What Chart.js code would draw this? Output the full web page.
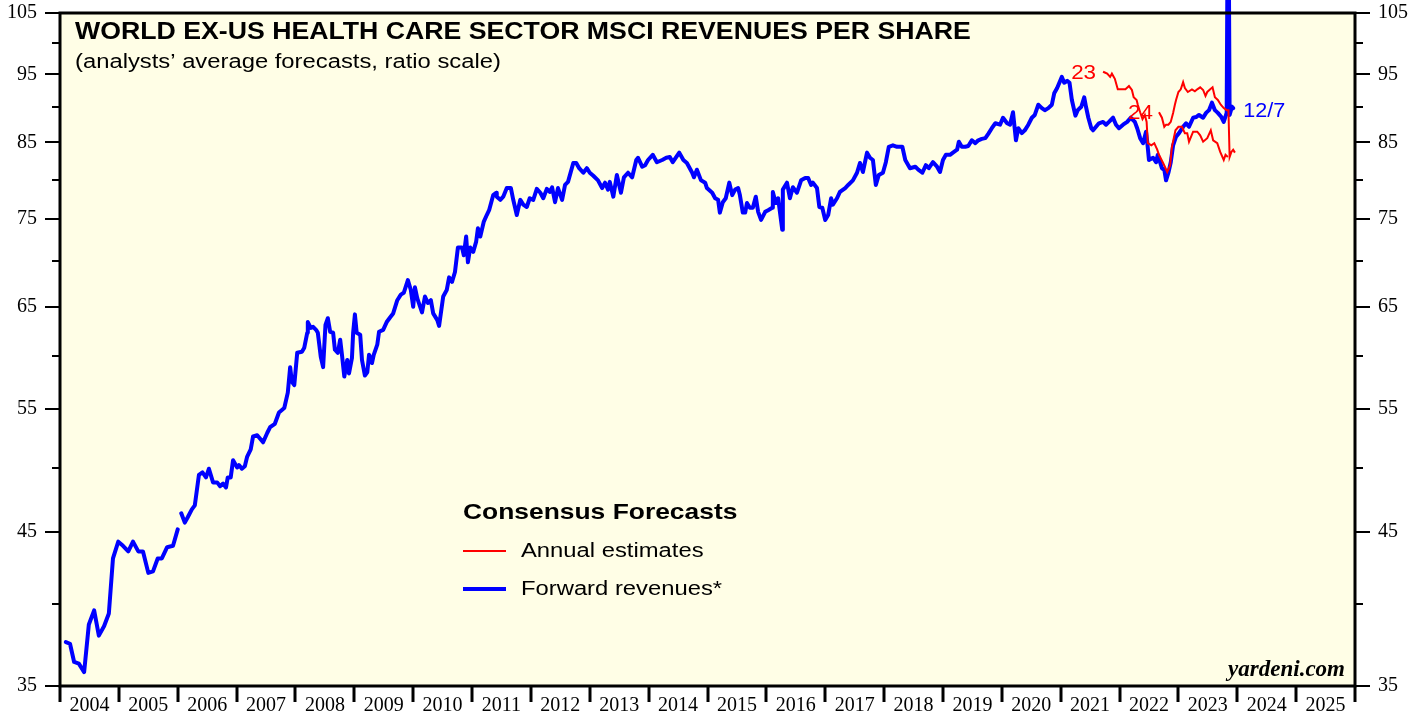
<!DOCTYPE html>
<html>
<head>
<meta charset="utf-8">
<script src="https://cdn.jsdelivr.net/npm/chart.js@4.4.0/dist/chart.umd.min.js"></script>
<style>
  html, body { margin: 0; padding: 0; background: #fff; }
  #wrap { width: 1424px; height: 717px; }
</style>
</head>
<body>
<div id="wrap"><canvas id="chart" width="1424" height="717"></canvas></div>
<script>
// Forward revenues (blue), decimal years; null = gap in the series
const fwdDates = [
  2004.10, 2004.17, 2004.24, 2004.32, 2004.41, 2004.49, 2004.58, 2004.66, 2004.75, 2004.83, 2004.90, 2004.99,
  2005.07, 2005.16, 2005.24, 2005.33, 2005.41, 2005.50, 2005.58, 2005.66, 2005.73, 2005.82, 2005.92, 2006.00,
  2006.03, 2006.06, 2006.12, 2006.17, 2006.24, 2006.29, 2006.36, 2006.42, 2006.48, 2006.53, 2006.60, 2006.67,
  2006.72, 2006.77, 2006.82, 2006.85, 2006.90, 2006.94, 2007.01, 2007.04, 2007.09, 2007.14, 2007.18, 2007.24,
  2007.28, 2007.35, 2007.40, 2007.45, 2007.52, 2007.57, 2007.65, 2007.72, 2007.81, 2007.87, 2007.91, 2007.94,
  2007.98, 2008.03, 2008.11, 2008.15, 2008.20, 2008.21, 2008.26, 2008.30, 2008.35, 2008.38, 2008.43, 2008.47,
  2008.51, 2008.55, 2008.59, 2008.64, 2008.67, 2008.72, 2008.76, 2008.79, 2008.83, 2008.88, 2008.91, 2008.96,
  2008.98, 2009.01, 2009.04, 2009.10, 2009.13, 2009.18, 2009.22, 2009.25, 2009.30, 2009.33, 2009.39, 2009.42,
  2009.49, 2009.55, 2009.61, 2009.66, 2009.73, 2009.79, 2009.84, 2009.91, 2009.96, 2010.00, 2010.03, 2010.07,
  2010.15, 2010.20, 2010.25, 2010.30, 2010.34, 2010.41, 2010.44, 2010.51, 2010.57, 2010.61, 2010.66, 2010.71,
  2010.76, 2010.83, 2010.86, 2010.90, 2010.93, 2010.97, 2011.02, 2011.07, 2011.10, 2011.14, 2011.20, 2011.25,
  2011.29, 2011.36, 2011.41, 2011.42, 2011.48, 2011.53, 2011.59, 2011.66, 2011.70, 2011.76, 2011.82, 2011.87,
  2011.93, 2011.98, 2012.04, 2012.10, 2012.16, 2012.21, 2012.27, 2012.32, 2012.36, 2012.41, 2012.46, 2012.53,
  2012.58, 2012.63, 2012.72, 2012.77, 2012.82, 2012.89, 2012.95, 2013.00, 2013.06, 2013.14, 2013.21, 2013.26,
  2013.31, 2013.34, 2013.40, 2013.46, 2013.53, 2013.58, 2013.65, 2013.72, 2013.79, 2013.82, 2013.89, 2013.94,
  2013.99, 2014.07, 2014.14, 2014.23, 2014.30, 2014.36, 2014.41, 2014.52, 2014.59, 2014.65, 2014.74, 2014.77,
  2014.82, 2014.89, 2014.96, 2014.99, 2015.08, 2015.13, 2015.18, 2015.21, 2015.26, 2015.31, 2015.37, 2015.42,
  2015.47, 2015.52, 2015.55, 2015.60, 2015.64, 2015.67, 2015.72, 2015.77, 2015.82, 2015.86, 2015.91, 2015.98,
  2016.03, 2016.10, 2016.11, 2016.16, 2016.20, 2016.27, 2016.28, 2016.35, 2016.40, 2016.45, 2016.52, 2016.59,
  2016.66, 2016.71, 2016.76, 2016.79, 2016.86, 2016.90, 2016.95, 2017.00, 2017.05, 2017.10, 2017.13, 2017.20,
  2017.25, 2017.34, 2017.39, 2017.47, 2017.54, 2017.59, 2017.64, 2017.71, 2017.76, 2017.81, 2017.86, 2017.91,
  2017.98, 2018.03, 2018.08, 2018.15, 2018.22, 2018.31, 2018.36, 2018.44, 2018.53, 2018.58, 2018.65, 2018.71,
  2018.76, 2018.83, 2018.90, 2018.95, 2019.00, 2019.05, 2019.12, 2019.17, 2019.24, 2019.27, 2019.32, 2019.38,
  2019.43, 2019.49, 2019.55, 2019.60, 2019.66, 2019.72, 2019.77, 2019.83, 2019.89, 2019.97, 2020.02, 2020.09,
  2020.14, 2020.19, 2020.24, 2020.28, 2020.34, 2020.39, 2020.45, 2020.51, 2020.56, 2020.62, 2020.68, 2020.73,
  2020.79, 2020.85, 2020.89, 2020.94, 2021.02, 2021.06, 2021.11, 2021.15, 2021.19, 2021.25, 2021.29, 2021.35,
  2021.40, 2021.43, 2021.47, 2021.52, 2021.55, 2021.60, 2021.65, 2021.72, 2021.77, 2021.82, 2021.89, 2021.94,
  2021.99, 2022.06, 2022.13, 2022.19, 2022.26, 2022.30, 2022.35, 2022.40, 2022.45, 2022.47, 2022.50, 2022.57,
  2022.62, 2022.65, 2022.72, 2022.76, 2022.79, 2022.83, 2022.87, 2022.91, 2022.96, 2023.01, 2023.08, 2023.13,
  2023.18, 2023.25, 2023.30, 2023.35, 2023.42, 2023.47, 2023.52, 2023.57, 2023.62, 2023.67, 2023.73, 2023.77,
  2023.82, 2023.845, 2023.87, 2023.91, 2023.93
];
const fwdValues = [
  37.6, 37.5, 36.4, 36.3, 35.8, 38.7, 39.6, 38.0, 38.6, 39.4, 43.1, 44.3,
  44.0, 43.6, 44.3, 43.6, 43.6, 42.1, 42.2, 43.1, 43.1, 43.9, 44.0, 45.2,
  null, 46.4, 45.7, 46.1, 46.7, 47.0, 49.4, 49.6, 49.2, 49.9, 48.8, 48.8,
  48.5, 48.7, 48.4, 49.2, 49.2, 50.6, 50.0, 50.2, 49.9, 50.1, 50.9, 51.5,
  52.6, 52.7, 52.4, 52.1, 52.9, 53.4, 53.7, 54.7, 55.1, 56.5, 58.9, 57.5,
  57.2, 60.3, 60.4, 60.8, 62.3, 63.4, 62.8, 62.9, 62.6, 62.3, 59.9, 58.9,
  63.1, 63.8, 62.4, 62.3, 60.6, 60.3, 61.6, 60.1, 58.0, 59.6, 58.3, 59.8,
  62.3, 64.2, 62.3, 62.1, 59.6, 58.1, 58.4, 60.1, 59.3, 60.1, 61.1, 62.4,
  62.6, 63.4, 63.9, 64.3, 65.7, 66.3, 66.5, 67.9, 66.8, 65.0, 67.1, 65.9,
  64.4, 66.1, 65.4, 65.7, 64.3, 63.6, 63.0, 66.1, 66.8, 68.2, 67.7, 68.8,
  71.6, 71.6, 70.7, 72.9, 69.9, 71.6, 71.1, 72.3, 73.9, 72.9, 74.7, 75.5,
  76.1, 78.0, 78.3, 77.8, 77.4, 77.8, 78.9, 78.9, 77.4, 75.5, 77.4, 76.8,
  76.5, 77.6, 77.4, 78.8, 78.3, 77.6, 78.8, 78.4, 79.0, 77.1, 78.9, 77.4,
  79.3, 79.7, 82.2, 82.2, 81.5, 80.9, 81.5, 80.9, 80.5, 79.9, 78.9, 79.6,
  78.7, 79.7, 77.8, 80.6, 78.3, 80.3, 80.9, 80.3, 82.6, 82.9, 81.7, 81.9,
  82.6, 83.3, 82.3, 82.6, 82.9, 83.0, 82.3, 83.6, 82.6, 82.2, 80.9, 80.3,
  81.3, 79.9, 79.6, 78.9, 78.3, 77.6, 77.4, 75.8, 77.1, 77.6, 79.6, 78.0,
  78.7, 78.9, 78.0, 75.8, 75.8, 77.0, 76.4, 76.4, 77.8, 75.9, 74.9, 75.9,
  76.1, 76.4, 78.4, 77.0, 77.6, 73.7, 78.7, 79.6, 77.6, 79.0, 78.3, 79.9,
  80.2, 80.2, 79.3, 79.6, 78.9, 76.5, 76.4, 74.9, 75.5, 77.6, 76.8, 77.6,
  78.4, 78.9, 79.3, 79.9, 80.9, 82.2, 81.0, 83.6, 82.9, 82.6, 79.3, 80.6,
  80.9, 82.3, 84.4, 84.6, 84.4, 84.4, 82.6, 81.5, 81.7, 81.3, 80.9, 81.9,
  81.5, 82.3, 81.7, 81.0, 82.6, 83.3, 83.3, 83.6, 84.0, 85.1, 84.4, 84.4,
  84.5, 85.3, 84.9, 85.3, 85.5, 85.6, 86.2, 87.0, 87.7, 87.5, 88.5, 87.7,
  87.5, 89.3, 85.3, 87.0, 86.3, 86.7, 87.5, 88.5, 88.9, 90.4, 89.9, 89.6,
  89.9, 90.4, 92.1, 92.9, 94.6, 93.7, 94.0, 93.7, 91.1, 88.8, 89.6, 90.1,
  91.5, 90.1, 88.5, 87.0, 86.7, 87.2, 87.7, 87.9, 87.5, 87.9, 88.5, 87.5,
  87.0, 87.5, 87.9, 88.5, 87.9, 87.0, 85.6, 84.9, 86.5, 85.1, 82.6, 82.9,
  82.3, 83.3, 81.5, 81.3, 79.9, 80.9, 82.3, 84.6, 85.8, 86.3, 87.2, 87.7,
  87.2, 88.5, 88.6, 88.9, 88.5, 89.2, 89.6, 90.7, 89.6, 89.2, 88.6, 87.9,
  89.2, 140, 88.9, 90.1, 89.9
];

// Annual estimates (red)
const est23Dates = [
  2021.72, 2021.79, 2021.84, 2021.87, 2021.92, 2021.97, 2022.05, 2022.10, 2022.16, 2022.21, 2022.24, 2022.29,
  2022.31, 2022.35, 2022.39, 2022.43, 2022.46, 2022.48, 2022.54, 2022.59, 2022.64, 2022.67, 2022.74, 2022.77,
  2022.81, 2022.86, 2022.89, 2022.95, 2023.00, 2023.06, 2023.11, 2023.15, 2023.18, 2023.25, 2023.32, 2023.37,
  2023.42, 2023.49, 2023.55, 2023.59, 2023.66, 2023.71, 2023.77, 2023.80, 2023.84
];
const est23Values = [
  95.4, 95.1, 94.6, 95.1, 94.3, 92.7, 92.7, 92.7, 93.2, 92.6, 91.5, 91.1,
  90.4, 89.3, 88.3, 88.9, 87.9, 84.9, 84.6, 84.9, 84.0, 83.3, 82.2, 81.7,
  81.0, 81.9, 84.4, 86.7, 87.2, 87.2, 86.3, 86.3, 85.1, 86.5, 86.5, 86.0,
  85.1, 85.6, 86.7, 85.3, 84.9, 83.7, 82.6, 83.3, 83.0
];
const est24Dates = [
  2022.67, 2022.72, 2022.76, 2022.79, 2022.83, 2022.87, 2022.91, 2022.94, 2022.96, 2023.00, 2023.04, 2023.08,
  2023.11, 2023.16, 2023.23, 2023.28, 2023.32, 2023.37, 2023.42, 2023.46, 2023.49, 2023.54, 2023.58, 2023.62,
  2023.67, 2023.72, 2023.77, 2023.82, 2023.85, 2023.87, 2023.90, 2023.93, 2023.96
];
const est24Values = [
  89.3, 88.5, 87.2, 87.5, 87.5, 87.9, 89.2, 90.4, 91.1, 92.3, 92.7, 93.8,
  92.9, 92.3, 92.7, 92.4, 92.7, 93.0, 92.6, 91.7, 92.3, 92.7, 93.0, 91.5,
  91.1, 90.4, 89.9, 89.6, 89.6, 83.0, 83.7, 84.0, 83.6
];

const estTags = ['23', '24'];
const lastDateTag = '12/7';
const years = [2004, 2005, 2006, 2007, 2008, 2009, 2010, 2011, 2012, 2013, 2014,
  2015, 2016, 2017, 2018, 2019, 2020, 2021, 2022, 2023, 2024, 2025];
const yMajorTicks = [35, 45, 55, 65, 75, 85, 95, 105];
const yMinorTicks = [40, 50, 60, 70, 80, 90, 100];

const SANS = '"Liberation Sans", Arial, sans-serif';
const SERIF = '"Liberation Serif", "Times New Roman", serif';
const BLUE = '#0000ff';
const RED = '#ff0000';

const toPoints = (dates, values) => dates.map((d, i) => ({ x: d, y: values[i] }));
const yTickValues = [...yMajorTicks, ...yMinorTicks].sort((a, b) => a - b);

// the original's sans text is a little wider than Arial, so stretch it
function wideText(ctx, text, x, y, sx, align) {
  ctx.save();
  ctx.translate(x, y);
  ctx.scale(sx, 1);
  ctx.textAlign = align || 'left';
  ctx.fillText(text, 0, 0);
  ctx.restore();
}

// background, frame, tick marks, labels, legend
const decor = {
  id: 'decor',
  beforeDatasetsDraw(chart) {
    const { ctx, chartArea: a } = chart;
    ctx.save();
    ctx.fillStyle = '#fffee6';
    ctx.fillRect(a.left, a.top, a.right - a.left, a.bottom - a.top);
    ctx.restore();
  },
  afterDraw(chart) {
    const { ctx, chartArea: a, scales } = chart;
    const xs = scales.x, ys = scales.y;
    ctx.save();

    // frame
    ctx.strokeStyle = '#000';
    ctx.lineWidth = 3;
    ctx.strokeRect(a.left, a.top, a.right - a.left, a.bottom - a.top);

    // y tick marks, both sides
    ctx.lineWidth = 2;
    yTickValues.forEach(v => {
      const py = Math.round(ys.getPixelForValue(v));
      const len = yMajorTicks.includes(v) ? 15 : 8;
      ctx.beginPath();
      ctx.moveTo(a.left - len, py); ctx.lineTo(a.left, py);
      ctx.moveTo(a.right, py); ctx.lineTo(a.right + len, py);
      ctx.stroke();
    });

    // x tick marks at year boundaries
    ctx.lineWidth = 3;
    [...years, years[years.length - 1] + 1].forEach(yr => {
      const px = Math.round(xs.getPixelForValue(yr));
      ctx.beginPath();
      ctx.moveTo(px, a.bottom); ctx.lineTo(px, a.bottom + 16);
      ctx.stroke();
    });

    // titles
    ctx.fillStyle = '#000';
    ctx.textBaseline = 'middle';
    ctx.font = `bold 23px ${SANS}`;
    wideText(ctx, 'WORLD EX-US HEALTH CARE SECTOR MSCI REVENUES PER SHARE', 75, 33, 1.16);
    ctx.font = `20px ${SANS}`;
    wideText(ctx, '(analysts\u2019 average forecasts, ratio scale)', 75, 62, 1.19);

    // series tags
    ctx.font = `20px ${SANS}`;
    ctx.fillStyle = RED;
    wideText(ctx, estTags[0], xs.getPixelForValue(est23Dates[0]) - 7, ys.getPixelForValue(est23Values[0]) + 2, 1.12, 'right');
    wideText(ctx, estTags[1], xs.getPixelForValue(est24Dates[0]) - 6, ys.getPixelForValue(est24Values[0]) + 1, 1.12, 'right');
    ctx.fillStyle = BLUE;
    const li = fwdDates.length - 1;
    wideText(ctx, lastDateTag, xs.getPixelForValue(fwdDates[li]) + 10, ys.getPixelForValue(fwdValues[li]) + 3, 1.08);

    // legend
    const ds = chart.data.datasets;
    ctx.fillStyle = '#000';
    ctx.font = `bold 22px ${SANS}`;
    wideText(ctx, 'Consensus Forecasts', 463, 513, 1.2);
    ctx.font = `20px ${SANS}`;
    [ds[0], ds[2]].forEach((d, i) => {
      const ly = 551 + i * 38;
      ctx.strokeStyle = d.borderColor;
      ctx.lineWidth = d.borderWidth;
      ctx.beginPath();
      ctx.moveTo(463, ly); ctx.lineTo(506, ly);
      ctx.stroke();
      wideText(ctx, d.label, 521, ly, 1.19);
    });

    // credit
    ctx.font = `italic bold 23px ${SERIF}`;
    ctx.textAlign = 'right';
    ctx.fillText('yardeni.com', 1345, 670);
    ctx.restore();
  }
};

const noPad = s => { s.paddingTop = 0; s.paddingBottom = 0; s.paddingLeft = 0; s.paddingRight = 0; };

const yAxis = (position, width) => ({
  type: 'logarithmic',
  position,
  min: 35,
  max: 105,
  afterBuildTicks: s => { s.ticks = yTickValues.map(v => ({ value: v })); },
  afterFit: s => { s.width = width; noPad(s); },
  grid: { display: false, drawTicks: false },
  border: { display: false },
  ticks: {
    autoSkip: false,
    padding: 23,
    color: '#000',
    font: { family: SERIF, size: 20 },
    callback: v => (yMajorTicks.includes(v) ? String(v) : '')
  }
});

new Chart(document.getElementById('chart'), {
  type: 'line',
  data: {
    datasets: [
      {
        label: 'Annual estimates',
        data: toPoints(est23Dates, est23Values),
        borderColor: RED, borderWidth: 2, pointRadius: 0, order: 0
      },
      {
        label: 'Annual estimates 24',
        data: toPoints(est24Dates, est24Values),
        borderColor: RED, borderWidth: 2, pointRadius: 0, order: 0
      },
      {
        label: 'Forward revenues*',
        data: toPoints(fwdDates, fwdValues),
        borderColor: BLUE, borderWidth: 4, pointRadius: 0, order: 1,
        borderJoinStyle: 'round', borderCapStyle: 'round',
        clip: false
      }
    ]
  },
  options: {
    responsive: false,
    animation: false,
    events: [],
    devicePixelRatio: 1,
    layout: { padding: { top: 13, left: 0, right: 0, bottom: 0 } },
    plugins: { legend: { display: false }, tooltip: { enabled: false } },
    scales: {
      x: {
        type: 'linear',
        position: 'bottom',
        min: 2004,
        max: 2026,
        afterBuildTicks: s => { s.ticks = years.map(y => ({ value: y + 0.5 })); },
        afterFit: s => { s.height = 31; noPad(s); },
        grid: { display: false, drawTicks: false },
        border: { display: false },
        ticks: {
          autoSkip: false,
          maxRotation: 0,
          padding: 8,
          color: '#000',
          font: { family: SERIF, size: 20 },
          callback: v => String(Math.floor(v))
        }
      },
      y: yAxis('left', 60),
      y2: yAxis('right', 69)
    }
  },
  plugins: [decor]
});
</script>
</body>
</html>
